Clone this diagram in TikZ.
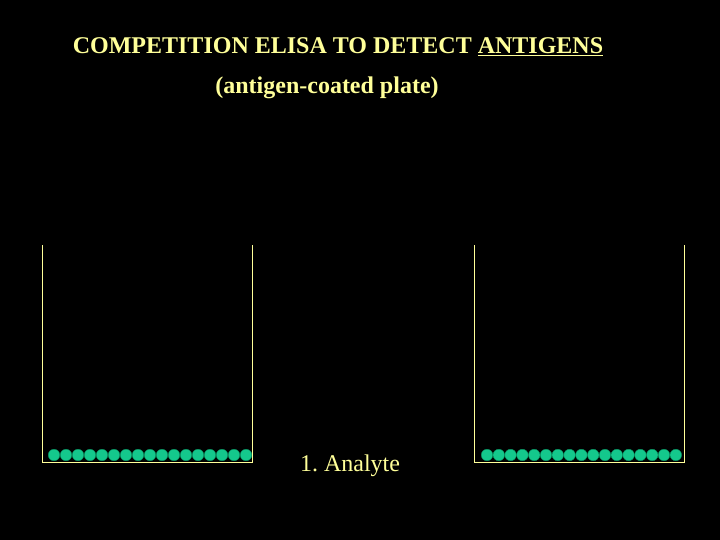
\documentclass[tikz,border=0pt]{standalone}
\usepackage{fontspec}
\setmainfont{Liberation Serif}
\usepackage{tikz}
\usetikzlibrary{calc}
\definecolor{paleyellow}{RGB}{255,255,153}
\definecolor{beadgreen}{RGB}{20,200,140}
\definecolor{beadedge}{RGB}{10,150,100}
\tikzset{>=stealth,
  title/.style={text=paleyellow,font=\fontsize{24}{26}\selectfont\bfseries,inner sep=0pt},
  label/.style={text=paleyellow,font=\fontsize{24}{26}\selectfont,inner sep=0pt},
  wall/.style={draw=paleyellow,line width=0.8pt},
  bead/.style={circle,fill=beadgreen,draw=beadedge,line width=0.4pt,minimum size=11.5pt,inner sep=0pt}}

\begin{document}
\frenchspacing
\begin{tikzpicture}[x=1pt,y=-1pt]
          \fill[black] (0,0) rectangle (720,540);
          \useasboundingbox (0,0) rectangle (720,540);

            \node[title] (head) at (338,47) {COMPETITION ELISA TO DETECT \underline{ANTIGENS}};
            \node[title] (sub) at (327,88) {(antigen-coated plate)};

          % the two wells
          \draw[wall] (42,245)--(42,462)--(252,462)--(252,245);
          \draw[wall] (474,245)--(474,462)--(684,462)--(684,245);

          % antigen coating on the bottom
          \foreach \i in {0,...,16}{
              \node[bead] (l\i) at ({54+12*\i},455) {};
              \node[bead] (r\i) at ({487+11.8*\i},455) {};
          }

          \node[label] (step) at (350,466) {1. Analyte};
          \end{tikzpicture}
\end{document}
